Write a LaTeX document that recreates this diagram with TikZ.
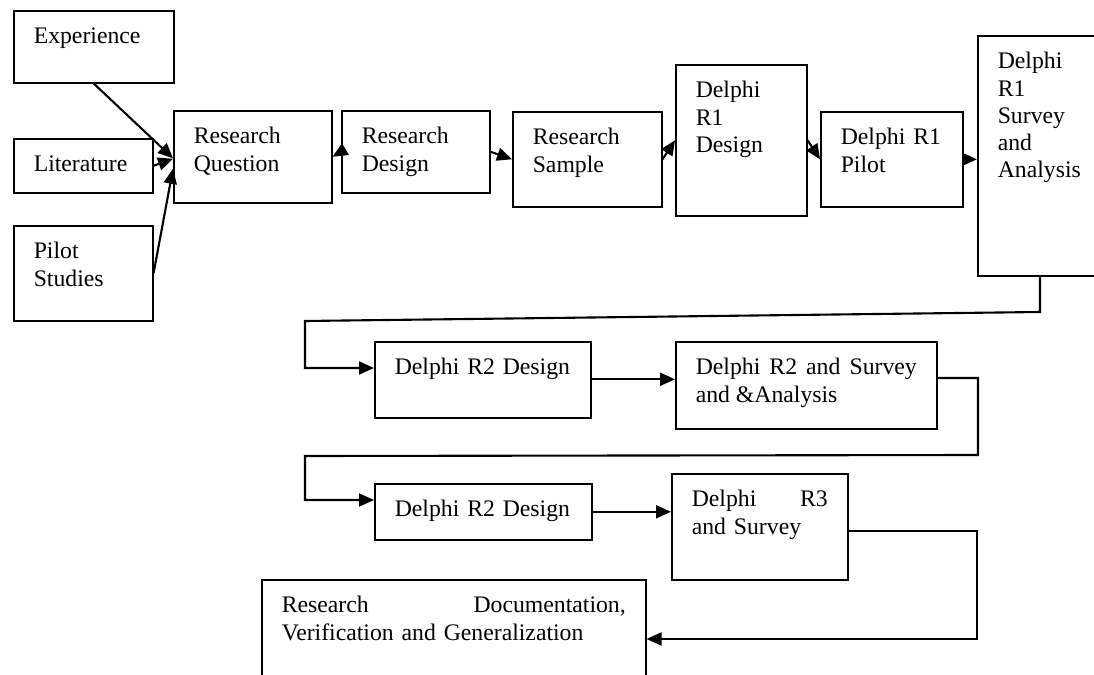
\documentclass[tikz,border=0pt]{standalone}
\usepackage{fontspec}
\setmainfont{Liberation Serif}
\usepackage{tikz}
\usetikzlibrary{arrows.meta}
\tikzstyle{fBox} = [rectangle, draw=black, line width=0.9pt, anchor=north west, align=left, inner xsep=0.4cm, inner ysep=0pt, text height=0.66cm, font=\fontsize{13.5}{15.5}\selectfont]
\tikzstyle{fArrow} = [line width=1.2pt, ->, >={Triangle[length=0.3cm, width=0.26cm]}]

\begin{document}
\begin{tikzpicture}[x=0.02cm, y=-0.02cm]
    \useasboundingbox (0,0) rectangle (1094,675);
    % inputs
    \node (exp) [fBox, text width=2.4cm, text depth=0.78cm] at (13,10) {Experience};
    \node (lit) [fBox, text width=1.98cm, text depth=0.42cm] at (13,138) {Literature};
    \node (pil) [fBox, text width=1.98cm, text depth=1.24cm] at (13,225) {Pilot\\Studies};
    % first row
    \node (rq) [fBox, text width=2.36cm, text depth=1.18cm] at (173,110) {Research\\Question};
    \node (rd) [fBox, text width=2.16cm, text depth=0.98cm] at (341,110) {Research\\Design};
    \node (rs) [fBox, text width=2.18cm, text depth=1.24cm] at (512,111) {Research\\Sample};
    \node (d1d) [fBox, text width=1.82cm, text depth=2.36cm] at (675,64) {Delphi\\R1\\Design};
    \node (d1p) [fBox, text width=2.04cm, text depth=1.24cm] at (820,111) {Delphi R1\\Pilot};
    \node (d1s) [fBox, text width=2.4cm, text depth=4.14cm] at (977,35) {Delphi\\R1\\Survey\\and\\Analysis};
    % second row
    \node (d2d) [fBox, text width=3.52cm, text depth=0.86cm] at (374,341) {Delphi R2 Design};
    \node (d2s) [fBox, align=justify, text width=4.42cm, text depth=1.08cm] at (675,341) {Delphi R2 and Survey and \&Analysis};
    % third row
    \node (d3d) [fBox, text width=3.54cm, text depth=0.46cm] at (374,483) {Delphi R2 Design};
    \node (d3s) [fBox, text width=2.72cm, text depth=1.46cm] at (671,473) {Delphi\hfill R3\\and Survey};
    \node (doc) [fBox, text width=6.88cm, text depth=2.6cm] at (261,579) {Research\hfill Documentation,\\Verification and Generalization};

    % turning points
    \coordinate (c1) at (1040,312);
    \coordinate (c2) at (305,321);
    \coordinate (c3) at (305,368);
    \coordinate (c4) at (978,378);
    \coordinate (c5) at (978,455);
    \coordinate (c6) at (305,456);
    \coordinate (c7) at (305,500);
    \coordinate (c8) at (977,639);

    \draw [fArrow] (exp.south) -- ([yshift=-0.03cm]rq.west);
    \draw [fArrow] (lit.east) -- ([yshift=-0.04cm]rq.west);
    \draw [fArrow] (pil.east) -- ([yshift=-0.24cm]rq.west);
    \draw [fArrow] (rd.west) -- (rq.east);
    \draw [fArrow] (rd.east) -- (rs.west);
    \draw [fArrow] (rs.east) -- (d1d.west);
    \draw [fArrow] (d1d.east) -- (d1p.west);
    \draw [fArrow] (d1p.east) -- (d1p.east -| d1s.west);
    \draw [fArrow] (d1s.south -| c1) -- (c1) -- (c2) -- (c3) -- (c3 -| d2d.west);
    \draw [fArrow] ([yshift=0.01cm]d2d.east) -- ([yshift=0.01cm]d2d.east -| d2s.west);
    \draw [fArrow] (c4 -| d2s.east) -- (c4) -- (c5) -- (c6) -- (c7) -- (c7 -| d3d.west);
    \draw [fArrow] (d3d.east) -- (d3d.east -| d3s.west);
    \draw [fArrow] ([yshift=-0.08cm]d3s.east) -| (c8) -- (c8 -| doc.east);
\end{tikzpicture}
\end{document}
